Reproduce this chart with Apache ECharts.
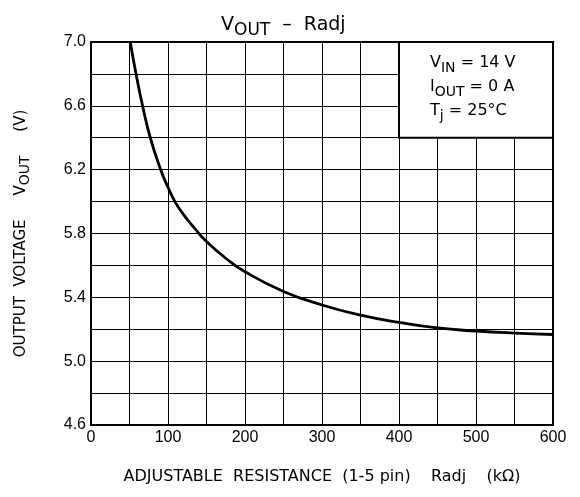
<!DOCTYPE html>
<html>
<head>
<meta charset="utf-8">
<script src="https://cdn.jsdelivr.net/npm/echarts@6/dist/echarts.min.js"></script>
<style>
  html, body { margin: 0; padding: 0; background: #fff; }
  #chart { width: 580px; height: 497px; }
</style>
</head>
<body>
<div id="chart"></div>
<script>
// Radj (kΩ) vs Vout (V)
var radj = [51, 58.5, 67, 77, 90.5, 100, 109, 120, 135, 150, 175, 200, 250, 300, 350, 400, 450, 500, 550, 600];
var vout = [7.0, 6.8, 6.6, 6.4, 6.2, 6.09, 6.0, 5.92, 5.83, 5.75, 5.645, 5.56, 5.437, 5.352, 5.289, 5.243, 5.208, 5.189, 5.176, 5.167];

// condition box corners (data space)
var boxFrom = [400, 7.0];
var boxTo = [600, 6.4];

var font = "'DejaVu Sans', sans-serif";
var tickFont = "'Liberation Sans', sans-serif";

var chart = echarts.init(document.getElementById("chart"));

chart.setOption({
  backgroundColor: "#FFFFFF",
  animation: false,
  textStyle: { fontFamily: font, color: "#000" },
  title: {
    left: 216,
    top: 3,
    text: "{m|V}{s|OUT}{m|  –  Radj}",
    textStyle: {
      fontWeight: "normal",
      rich: {
        m: { fontSize: 19, fontFamily: font, color: "#000", verticalAlign: "bottom", lineHeight: 27 },
        s: { fontSize: 17, fontFamily: font, color: "#000", verticalAlign: "bottom", lineHeight: 27, padding: [0, 0, -4, 0] }
      }
    }
  },
  grid: {
    left: 91,
    right: 27,
    top: 42,
    bottom: 72,
    show: true,
    borderColor: "#000",
    borderWidth: 2
  },
  xAxis: {
    type: "value",
    min: 0,
    max: 600,
    interval: 50,
    name: "ADJUSTABLE  RESISTANCE  (1-5 pin)    Radj    (kΩ)",
    nameLocation: "middle",
    nameGap: 44,
    nameTextStyle: { fontSize: 16, color: "#000", fontFamily: font },
    axisLine: { lineStyle: { color: "#000", width: 2 } },
    axisTick: { show: false },
    splitLine: { lineStyle: { color: "#000", width: 1 } },
    axisLabel: {
      margin: 5,
      fontSize: 16,
      fontFamily: tickFont,
      color: "#000",
      formatter: function (v) { return v % 100 === 0 ? String(v) : ""; }
    }
  },
  yAxis: {
    type: "value",
    min: 4.6,
    max: 7.0,
    interval: 0.2,
    name: "{m|OUTPUT  VOLTAGE     V}{s|OUT}{m|     (V)}",
    nameLocation: "middle",
    nameGap: 62,
    nameRotate: 90,
    nameTextStyle: {
      rich: {
        m: { fontSize: 15, fontFamily: font, color: "#000", verticalAlign: "bottom", lineHeight: 20 },
        s: { fontSize: 14, fontFamily: font, color: "#000", verticalAlign: "bottom", lineHeight: 20, padding: [0, 0, -3, 0] }
      }
    },
    axisLine: { show: true, lineStyle: { color: "#000", width: 2 } },
    axisTick: { show: false },
    splitLine: { lineStyle: { color: "#000", width: 1 } },
    axisLabel: {
      margin: 5,
      fontSize: 16,
      fontFamily: tickFont,
      color: "#000",
      formatter: function (v) {
        return (Math.round(v * 10) - 46) % 4 === 0 ? v.toFixed(1) : "";
      }
    }
  },
  series: [
    {
      type: "line",
      data: radj.map(function (r, i) { return [r, vout[i]]; }),
      smooth: 0.5,
      showSymbol: false,
      lineStyle: { color: "#000", width: 2.8 },
      markArea: {
        silent: true,
        itemStyle: { color: "#fff", borderColor: "#000", borderWidth: 2 },
        label: {
          show: true,
          position: [32, 6],
          formatter: "{m|V}{s|IN}{m| = 14 V}\n{m|I}{s|OUT}{m| = 0 A}\n{m|T}{s|j}{m| = 25°C}",
          rich: {
            m: { fontSize: 16, fontFamily: font, color: "#000", verticalAlign: "bottom", lineHeight: 24 },
            s: { fontSize: 14, fontFamily: font, color: "#000", verticalAlign: "bottom", lineHeight: 24, padding: [0, 0, -4, 0] }
          }
        },
        data: [[{ coord: boxFrom }, { coord: boxTo }]]
      }
    }
  ]
});
</script>
</body>
</html>
